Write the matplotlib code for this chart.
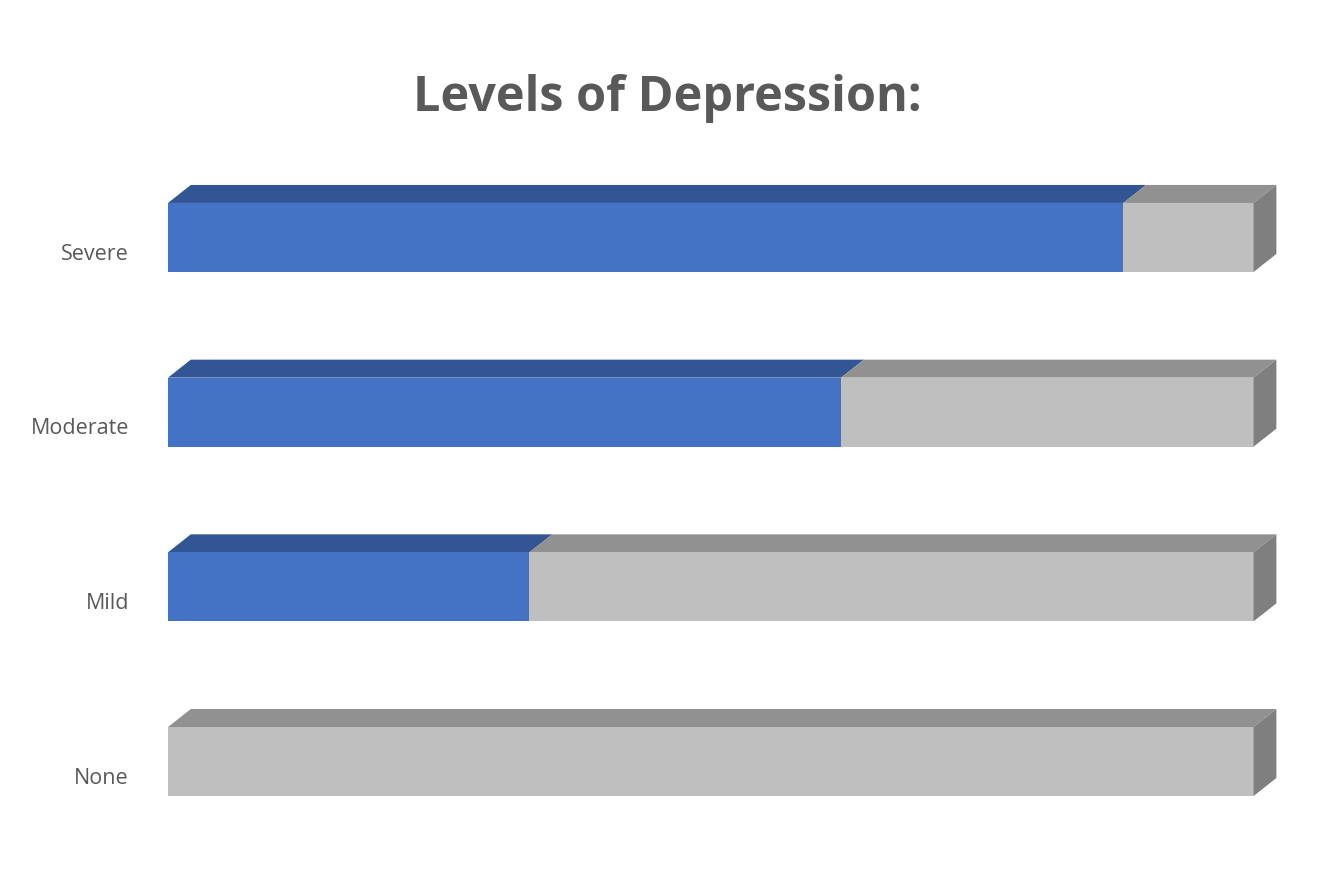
import matplotlib
matplotlib.use('Agg')
import matplotlib.pyplot as plt
from matplotlib.patches import Polygon

# ── Data ──────────────────────────────────────────────────────────────────────
levels = ["None", "Mild", "Moderate", "Severe"]
blue_vals = [0, 33.3, 62, 88]
total = 100

# ── Style ─────────────────────────────────────────────────────────────────────
blue_front, blue_top = '#4472C4', '#325594'
gray_front, gray_top, gray_side = '#BFBFBF', '#919191', '#7F7F7F'
bar_h = 0.395
depth_x, depth_y = 2.1, 0.103   # 3D depth offset in data units

fig = plt.figure(figsize=(13.34, 8.89), dpi=100)
ax = fig.add_axes([168 / 1334, 0.0255, 1129 / 1334, 0.8253])
ax.set_xlim(0, 104)
ax.set_ylim(-0.6, 3.6)
ax.axis('off')


def box(x0, x1, yc, front, top):
    ybot, ytop = yc - bar_h / 2, yc + bar_h / 2
    ax.add_patch(Polygon([(x0, ybot), (x1, ybot), (x1, ytop), (x0, ytop)],
                         closed=True, facecolor=front, edgecolor='none', zorder=3))
    ax.add_patch(Polygon([(x0, ytop), (x1, ytop), (x1 + depth_x, ytop + depth_y),
                          (x0 + depth_x, ytop + depth_y)],
                         closed=True, facecolor=top, edgecolor='none', zorder=2))


for i, (name, v) in enumerate(zip(levels, blue_vals)):
    if v > 0:
        box(0, v, i, blue_front, blue_top)
    box(v, total, i, gray_front, gray_top)
    ybot, ytop = i - bar_h / 2, i + bar_h / 2
    ax.add_patch(Polygon([(total, ybot), (total + depth_x, ybot + depth_y),
                          (total + depth_x, ytop + depth_y), (total, ytop)],
                         closed=True, facecolor=gray_side, edgecolor='none', zorder=3))
    ax.text(-3.6, i - 0.095, name, ha='right', va='center', fontsize=15.5,
            color='#595959', family='Open Sans')

fig.text(0.5, 0.889, 'Levels of Depression:', ha='center', va='center',
         fontsize=35, fontweight='bold', color='#595959', family='Open Sans')

fig.savefig('out.png', dpi=100)
